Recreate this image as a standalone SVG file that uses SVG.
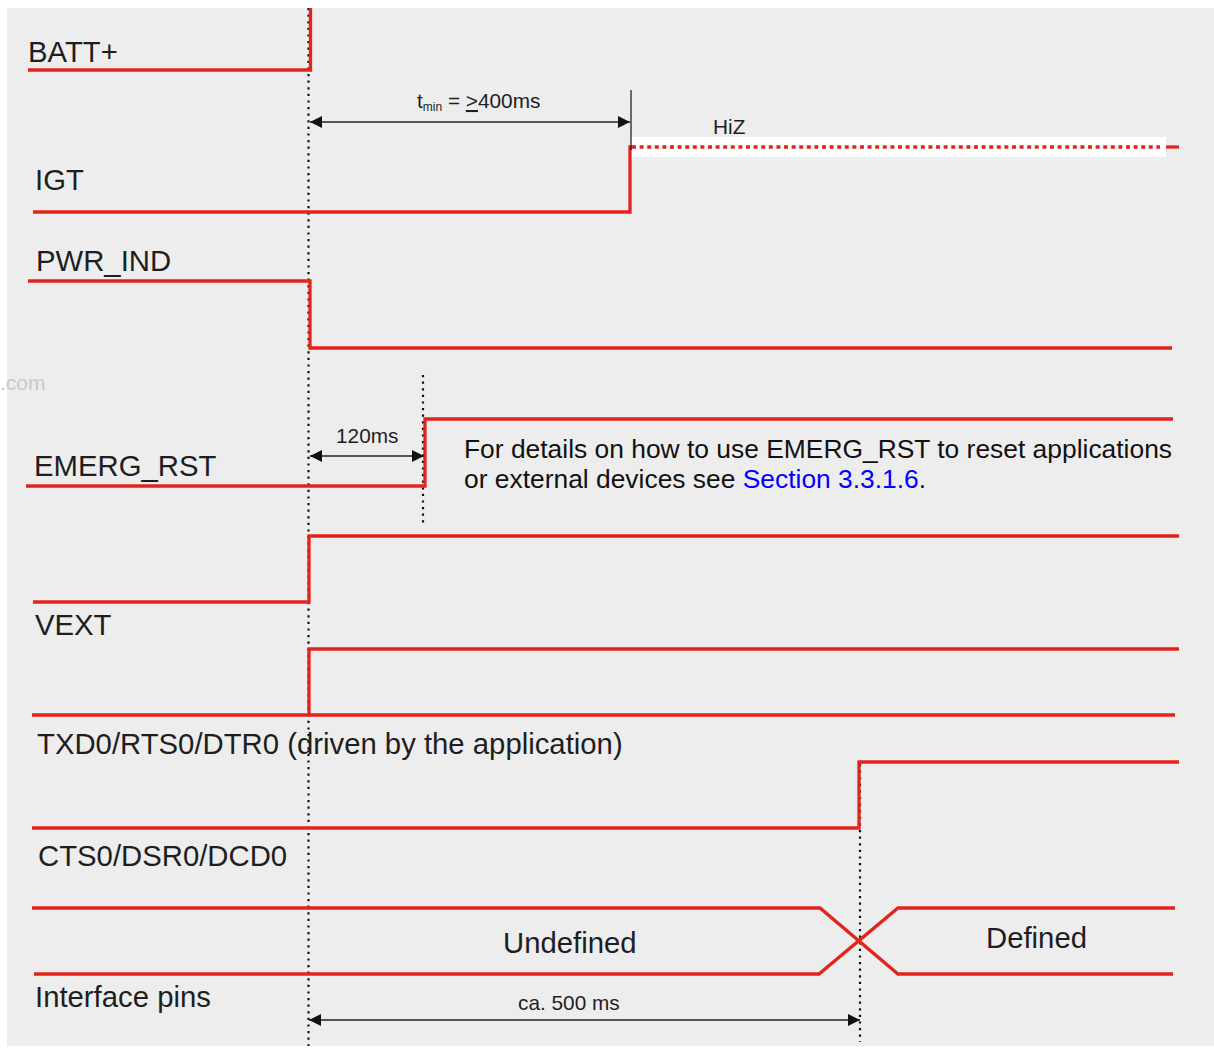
<svg xmlns="http://www.w3.org/2000/svg" width="1214" height="1048" viewBox="0 0 1214 1048">
<defs>
<style>
.sig{fill:none;stroke:#E1251B;stroke-width:3.3;stroke-linejoin:miter;stroke-linecap:butt}
.dot{fill:none;stroke:#111;stroke-width:2.2;stroke-dasharray:2.2 4.4}
.dim{fill:none;stroke:#222;stroke-width:1.3}
.lbl{font-family:"Liberation Sans",Arial,sans-serif;font-size:29.3px;fill:#1e1e1e}
.sm{font-family:"Liberation Sans",Arial,sans-serif;font-size:20.8px;fill:#1e1e1e}
.note{font-family:"Liberation Sans",Arial,sans-serif;font-size:26.4px;fill:#111}
</style>
<marker id="ah" viewBox="0 0 12 12" markerWidth="12" markerHeight="12" refX="12" refY="6" orient="auto-start-reverse" markerUnits="userSpaceOnUse">
<path d="M0,0 L12,6 L0,12 z" fill="#111"/>
</marker>
</defs>
<rect x="0" y="0" width="1214" height="1048" fill="#ffffff"/>
<rect x="7" y="8" width="1207" height="1038" fill="#EDEDED"/>
<text x="0" y="390" font-family="Liberation Sans, Arial, sans-serif" font-size="21" fill="#c9c9c9">.com</text>

<g id="guides">
<line class="dot" x1="308.5" y1="8" x2="308.5" y2="1046"/>
<line class="dot" x1="423" y1="375" x2="423" y2="524"/>
<line class="dot" x1="860" y1="764" x2="860" y2="1042"/>
</g>

<g id="batt">
<text class="lbl" x="28" y="62">BATT+</text>
<polyline class="sig" points="28,70 310.5,70 310.5,8"/>
</g>

<g id="igt">
<text class="lbl" x="35" y="190">IGT</text>
<rect x="631" y="137" width="535" height="20" fill="#ffffff"/>
<polyline class="sig" points="33,212 630,212 630,147 632,147"/>
<line x1="632" y1="147" x2="1160" y2="147" stroke="#E1251B" stroke-width="3.5" stroke-dasharray="4 3.6"/>
<line class="sig" x1="1166" y1="147" x2="1179" y2="147"/>
<text class="sm" x="713" y="134">HiZ</text>
</g>

<g id="pwr_ind">
<text class="lbl" x="36" y="271">PWR_IND</text>
<polyline class="sig" points="28,281 310,281 310,348 1172,348"/>
</g>

<g id="emerg_rst">
<text class="lbl" x="34" y="476">EMERG_RST</text>
<polyline class="sig" points="26,486 425,486 425,419 1173,419"/>
<text class="note" x="464" y="458">For details on how to use EMERG_RST to reset applications</text>
<text class="note" x="464" y="488">or external devices see <tspan fill="#0000FF">Section 3.3.1.6</tspan>.</text>
</g>

<g id="vext">
<text class="lbl" x="35" y="635">VEXT</text>
<polyline class="sig" points="33,602 309,602 309,536 1179,536"/>
</g>

<g id="txd0">
<text class="lbl" x="37" y="754">TXD0/RTS0/DTR0 (driven by the application)</text>
<line class="sig" x1="32" y1="715" x2="1175" y2="715"/>
<polyline class="sig" points="309,715 309,649 1179,649"/>
</g>

<g id="cts0">
<text class="lbl" x="38" y="866">CTS0/DSR0/DCD0</text>
<polyline class="sig" points="32,828 859,828 859,762 1179,762"/>
</g>

<g id="interface_pins">
<text class="lbl" x="35" y="1007">Interface pins</text>
<polyline class="sig" points="32,908 820,908 898,974 1173,974"/>
<polyline class="sig" points="34,974 819,974 898,908 1175,908"/>
<text class="lbl" x="503" y="953">Undefined</text>
<text class="lbl" x="986" y="948">Defined</text>
</g>

<g id="connectors">
<line class="dim" x1="631" y1="90" x2="631" y2="150" stroke="#555"/>
<line class="dim" x1="310" y1="122" x2="630" y2="122" marker-start="url(#ah)" marker-end="url(#ah)"/>
<line class="dim" x1="310" y1="456" x2="424" y2="456" marker-start="url(#ah)" marker-end="url(#ah)"/>
<line class="dim" x1="309" y1="1020" x2="860" y2="1020" marker-start="url(#ah)" marker-end="url(#ah)"/>
</g>

<g id="dim_labels">
<text class="sm" x="417" y="108">t<tspan font-size="12" dy="3">min</tspan><tspan dy="-3"> = </tspan><tspan text-decoration="underline">&gt;</tspan>400ms</text>
<text class="sm" x="336" y="443">120ms</text>
<text class="sm" x="518" y="1010">ca. 500 ms</text>
</g>
</svg>
